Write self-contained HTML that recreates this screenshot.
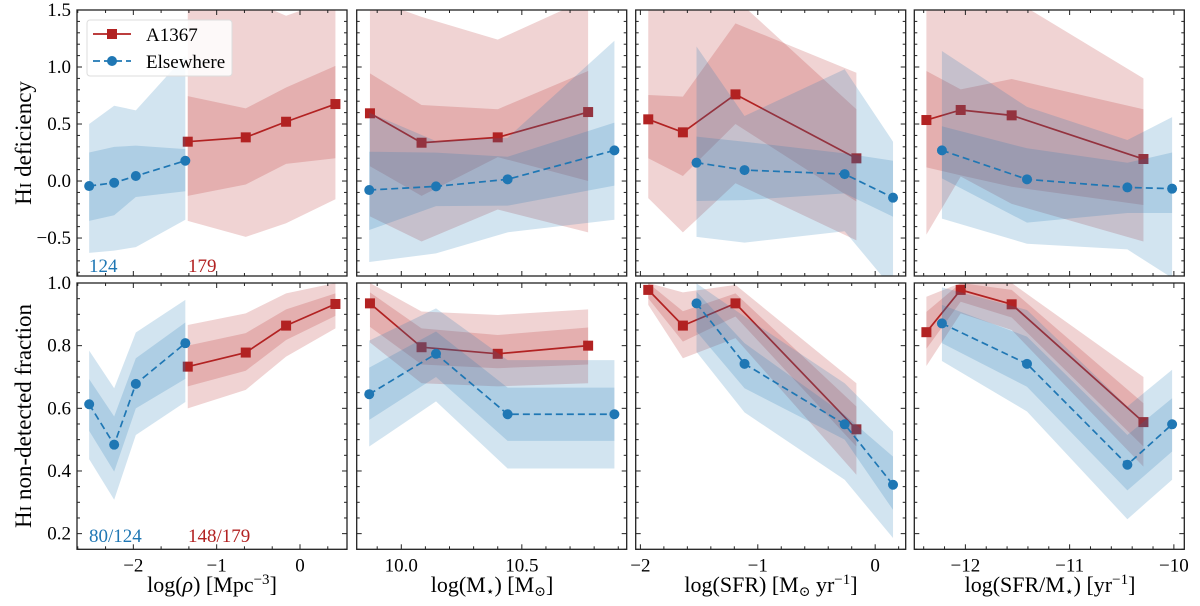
<!DOCTYPE html>
<html><head><meta charset="utf-8">
<style>
html,body{margin:0;padding:0;background:#fff;}
svg{display:block;font-family:"Liberation Serif","DejaVu Serif",serif;}
</style></head>
<body>
<svg id="chart" width="1200" height="606" viewBox="0 0 1200 606" xmlns="http://www.w3.org/2000/svg">
<g id="layer"></g>
<text transform="translate(31,143) rotate(-90)" text-anchor="middle" font-size="23">H<tspan font-size="17">I</tspan> deficiency</text>
<text transform="translate(31,416) rotate(-90)" text-anchor="middle" font-size="23">H<tspan font-size="17">I</tspan> non-detected fraction</text>
<text x="212" y="592" text-anchor="middle" font-size="22">log(<tspan font-style="italic">ρ</tspan>) [Mpc<tspan font-size="15" dy="-8">−3</tspan><tspan dy="8">]</tspan></text>
<text x="492" y="592" text-anchor="middle" font-size="22">log(M<tspan font-size="14" dy="4">⋆</tspan><tspan dy="-4">) [M</tspan><tspan font-size="14" dy="4">⊙</tspan><tspan dy="-4">]</tspan></text>
<text x="771" y="592" text-anchor="middle" font-size="22">log(SFR) [M<tspan font-size="14" dy="4">⊙</tspan><tspan dy="-4"> yr</tspan><tspan font-size="15" dy="-8">−1</tspan><tspan dy="8">]</tspan></text>
<text x="1050" y="592" text-anchor="middle" font-size="22">log(SFR/M<tspan font-size="14" dy="4">⋆</tspan><tspan dy="-4">) [yr</tspan><tspan font-size="15" dy="-8">−1</tspan><tspan dy="8">]</tspan></text>
<text x="89" y="272" font-size="19" fill="#1f77b4">124</text>
<text x="188" y="272" font-size="19" fill="#b22222">179</text>
<text x="89" y="542" font-size="19" fill="#1f77b4">80/124</text>
<text x="188" y="542" font-size="19" fill="#b22222">148/179</text>
<g>
<rect x="87" y="20" width="145" height="56" rx="3" fill="#fff" fill-opacity="0.85" stroke="#ddd" stroke-width="1"/>
<g>
<line x1="93" y1="34" x2="131" y2="34" stroke="#b22222" stroke-width="1.7"/>
<rect x="107" y="29" width="10" height="10" fill="#b22222"/>
<text x="146" y="41" font-size="19">A1367</text></g>
<g>
<line x1="93" y1="61" x2="131" y2="61" stroke="#1f77b4" stroke-width="1.7" stroke-dasharray="7,4"/>
<circle cx="112" cy="61" r="5" fill="#1f77b4"/>
<text x="146" y="68" font-size="19">Elsewhere</text></g>
</g>
</svg>
<script>
// ---- data: x positions ----
const p1RedX=[-1.347,-0.651,-0.167,0.425];
const p1BlueX=[-2.53,-2.23,-1.97,-1.376];
const p2RedX=[9.87,10.084,10.40,10.775];
const p2BlueX=[9.867,10.144,10.441,10.884];
const p3RedX=[-1.933,-1.638,-1.19,-0.16];
const p3BlueX=[-1.522,-1.113,-0.26,0.152];
const p4RedX=[-12.374,-12.045,-11.556,-10.292];
const p4BlueX=[-12.225,-11.409,-10.446,-10.017];
// ---- HI deficiency (top row) ----
const p1RedDef=[0.345,0.383,0.52,0.675];
const p1RedDefInLo=[-0.13,-0.03,0.15,0.20];
const p1RedDefInHi=[0.745,0.637,0.82,1.01];
const p1RedDefOutLo=[-0.35,-0.49,-0.37,-0.16];
const p1RedDefOutHi=[1.6,1.6,1.45,1.6];
const p1BlueDef=[-0.044,-0.015,0.044,0.178];
const p1BlueDefInLo=[-0.35,-0.30,-0.14,-0.09];
const p1BlueDefInHi=[0.25,0.30,0.31,0.28];
const p1BlueDefOutLo=[-0.63,-0.61,-0.58,-0.34];
const p1BlueDefOutHi=[0.50,0.66,0.62,1.1];
const p2RedDef=[0.594,0.336,0.383,0.605];
const p2RedDefInLo=[0.13,-0.13,0.21,0.0];
const p2RedDefInHi=[0.944,0.667,0.63,0.965];
const p2RedDefOutLo=[-0.31,-0.53,-0.25,-0.45];
const p2RedDefOutHi=[1.6,1.44,1.24,1.6];
const p2BlueDef=[-0.079,-0.047,0.015,0.269];
const p2BlueDefInLo=[-0.43,-0.22,-0.216,-0.04];
const p2BlueDefInHi=[0.257,0.249,0.213,0.512];
const p2BlueDefOutLo=[-0.71,-0.635,-0.45,-0.34];
const p2BlueDefOutHi=[0.6,0.35,0.38,1.23];
const p3RedDef=[0.541,0.427,0.76,0.199];
const p3RedDefInLo=[0.2,0.044,0.5,-0.18];
const p3RedDefInHi=[0.754,0.74,1.383,0.95];
const p3RedDefOutLo=[-0.15,-0.45,-0.02,-0.52];
const p3RedDefOutHi=[1.6,1.6,1.6,0.63];
const p3BlueDef=[0.161,0.096,0.061,-0.146];
const p3BlueDefInLo=[-0.175,-0.167,-0.108,-0.313];
const p3BlueDefInHi=[0.389,0.345,0.243,0.178];
const p3BlueDefOutLo=[-0.49,-0.54,-0.44,-0.95];
const p3BlueDefOutHi=[1.18,0.57,0.98,0.345];
const p4RedDef=[0.535,0.623,0.576,0.193];
const p4RedDefInLo=[0.12,0.05,-0.05,-0.21];
const p4RedDefInHi=[0.965,0.804,0.895,0.629];
const p4RedDefOutLo=[-0.47,0.04,-0.2,-0.53];
const p4RedDefOutHi=[1.6,1.6,1.6,0.9];
const p4BlueDef=[0.269,0.015,-0.056,-0.067];
const p4BlueDefInLo=[0.023,-0.365,-0.28,-0.28];
const p4BlueDefInHi=[0.48,0.287,0.16,0.25];
const p4BlueDefOutLo=[-0.33,-0.55,-0.6,-0.85];
const p4BlueDefOutHi=[1.14,0.65,0.36,0.56];
// ---- non-detected fraction (bottom row) ----
const p1RedFrac=[0.733,0.778,0.864,0.933];
const p1RedFracInLo=[0.67,0.72,0.818,0.895];
const p1RedFracInHi=[0.80,0.84,0.916,0.967];
const p1RedFracOutLo=[0.60,0.659,0.765,0.855];
const p1RedFracOutHi=[0.866,0.903,0.967,1.0];
const p1BlueFrac=[0.613,0.484,0.678,0.808];
const p1BlueFracInLo=[0.528,0.398,0.60,0.694];
const p1BlueFracInHi=[0.693,0.574,0.76,0.874];
const p1BlueFracOutLo=[0.438,0.308,0.515,0.62];
const p1BlueFracOutHi=[0.784,0.664,0.842,0.946];
const p2RedFrac=[0.935,0.795,0.774,0.80];
const p2RedFracInLo=[0.86,0.74,0.728,0.74];
const p2RedFracInHi=[0.97,0.855,0.834,0.858];
const p2RedFracOutLo=[0.81,0.68,0.67,0.68];
const p2RedFracOutHi=[1.0,0.909,0.898,0.916];
const p2BlueFrac=[0.645,0.774,0.581,0.581];
const p2BlueFracInLo=[0.563,0.70,0.496,0.496];
const p2BlueFracInHi=[0.73,0.845,0.666,0.666];
const p2BlueFracOutLo=[0.478,0.622,0.408,0.408];
const p2BlueFracOutHi=[0.816,0.919,0.754,0.754];
const p3RedFrac=[0.978,0.864,0.935,0.533];
const p3RedFracInLo=[0.951,0.813,0.893,0.478];
const p3RedFracInHi=[1.0,0.91,0.967,0.606];
const p3RedFracOutLo=[0.93,0.76,0.824,0.388];
const p3RedFracOutHi=[1.0,0.97,0.994,0.68];
const p3BlueFrac=[0.935,0.742,0.549,0.356];
const p3BlueFracInLo=[0.845,0.664,0.5,0.276];
const p3BlueFracInHi=[0.972,0.808,0.579,0.446];
const p3BlueFracOutLo=[0.78,0.587,0.372,0.186];
const p3BlueFracOutHi=[0.999,0.893,0.68,0.526];
const p4RedFrac=[0.843,0.978,0.932,0.556];
const p4RedFracInLo=[0.79,0.94,0.89,0.478];
const p4RedFracInHi=[0.908,1.0,0.978,0.616];
const p4RedFracOutLo=[0.735,0.903,0.85,0.414];
const p4RedFracOutHi=[0.956,1.0,1.0,0.70];
const p4BlueFrac=[0.871,0.742,0.42,0.549];
const p4BlueFracInLo=[0.808,0.669,0.338,0.462];
const p4BlueFracInHi=[0.93,0.829,0.515,0.632];
const p4BlueFracOutLo=[0.751,0.59,0.246,0.372];
const p4BlueFracOutHi=[0.986,0.914,0.606,0.723];
// ---- tick labels ----
const defTicks=[-0.5,0.0,0.5,1.0,1.5];
const fracTicks=[0.2,0.4,0.6,0.8,1.0];
const p1XTicks=[-2,-1,0];
const p2XTicks=[10.0,10.5];
const p3XTicks=[-2,-1,0];
const p4XTicks=[-12,-11,-10];

const NS="http://www.w3.org/2000/svg";
const layer=document.getElementById('layer');
const RED="#b22222", BLUE="#1f77b4";
function mk(tag,attrs,parent){const e=document.createElementNS(NS,tag);for(const k in attrs)e.setAttribute(k,attrs[k]);(parent||layer).appendChild(e);return e;}
function fmt(v,dec){let s=v.toFixed(dec);if(v<0)s="−"+s.slice(1);return s;}

const cols=[
 {x0:77,x1:347,xmin:-2.676,xmax:0.564,xt:p1XTicks,minor:1/3,dec:0,name:'density',
  rx:p1RedX,bx:p1BlueX,
  def:[p1RedDef,p1RedDefInLo,p1RedDefInHi,p1RedDefOutLo,p1RedDefOutHi,p1BlueDef,p1BlueDefInLo,p1BlueDefInHi,p1BlueDefOutLo,p1BlueDefOutHi],
  frac:[p1RedFrac,p1RedFracInLo,p1RedFracInHi,p1RedFracOutLo,p1RedFracOutHi,p1BlueFrac,p1BlueFracInLo,p1BlueFracInHi,p1BlueFracOutLo,p1BlueFracOutHi]},
 {x0:356.7,x1:626.7,xmin:9.815,xmax:10.935,xt:p2XTicks,minor:0.1,dec:1,name:'mass',
  rx:p2RedX,bx:p2BlueX,
  def:[p2RedDef,p2RedDefInLo,p2RedDefInHi,p2RedDefOutLo,p2RedDefOutHi,p2BlueDef,p2BlueDefInLo,p2BlueDefInHi,p2BlueDefOutLo,p2BlueDefOutHi],
  frac:[p2RedFrac,p2RedFracInLo,p2RedFracInHi,p2RedFracOutLo,p2RedFracOutHi,p2BlueFrac,p2BlueFracInLo,p2BlueFracInHi,p2BlueFracOutLo,p2BlueFracOutHi]},
 {x0:635.7,x1:905.7,xmin:-2.04,xmax:0.26,xt:p3XTicks,minor:0.2,dec:0,name:'sfr',
  rx:p3RedX,bx:p3BlueX,
  def:[p3RedDef,p3RedDefInLo,p3RedDefInHi,p3RedDefOutLo,p3RedDefOutHi,p3BlueDef,p3BlueDefInLo,p3BlueDefInHi,p3BlueDefOutLo,p3BlueDefOutHi],
  frac:[p3RedFrac,p3RedFracInLo,p3RedFracInHi,p3RedFracOutLo,p3RedFracOutHi,p3BlueFrac,p3BlueFracInLo,p3BlueFracInHi,p3BlueFracOutLo,p3BlueFracOutHi]},
 {x0:914.3,x1:1184.3,xmin:-12.49,xmax:-9.9,xt:p4XTicks,minor:0.2,dec:0,name:'ssfr',
  rx:p4RedX,bx:p4BlueX,
  def:[p4RedDef,p4RedDefInLo,p4RedDefInHi,p4RedDefOutLo,p4RedDefOutHi,p4BlueDef,p4BlueDefInLo,p4BlueDefInHi,p4BlueDefOutLo,p4BlueDefOutHi],
  frac:[p4RedFrac,p4RedFracInLo,p4RedFracInHi,p4RedFracOutLo,p4RedFracOutHi,p4BlueFrac,p4BlueFracInLo,p4BlueFracInHi,p4BlueFracOutLo,p4BlueFracOutHi]}
];
const rows=[
 {y0:10,y1:276,ymin:-0.833,ymax:1.5,yt:defTicks,minor:0.1,dec:1,key:'def'},
 {y0:283,y1:549.3,ymin:0.15,ymax:1.0,yt:fracTicks,minor:0.05,dec:1,key:'frac'}
];

let clipId=0;
rows.forEach((r,ri)=>{cols.forEach((c,ci)=>{
  const sx=v=>c.x0+(v-c.xmin)/(c.xmax-c.xmin)*(c.x1-c.x0);
  const sy=v=>r.y1-(v-r.ymin)/(r.ymax-r.ymin)*(r.y1-r.y0);
  const g=mk('g',{});
  
  
  const cid='clip'+(clipId++);
  const cp=mk('clipPath',{id:cid},g);
  mk('rect',{x:c.x0,y:r.y0,width:c.x1-c.x0,height:r.y1-r.y0},cp);
  const plot=mk('g',{'clip-path':'url(#'+cid+')'},g);
  const d=c[r.key];
  function band(xs,lo,hi,col,nm){
    const pts=xs.map((x,i)=>sx(x)+','+sy(hi[i])).concat(xs.map((x,i)=>sx(x)+','+sy(lo[i])).reverse());
    const p=mk('polygon',{points:pts.join(' '),fill:col,'fill-opacity':0.2},plot);
    
    
  }
  function series(xs,ys,col,dash,marker,nm){
    const pl=mk('polyline',{points:xs.map((x,i)=>sx(x)+','+sy(ys[i])).join(' '),fill:'none',stroke:col,'stroke-width':1.7},plot);
    if(dash)pl.setAttribute('stroke-dasharray','7,4');
    
    
    xs.forEach((x,i)=>{
      let m;
      if(marker==='sq')m=mk('rect',{x:sx(x)-5,y:sy(ys[i])-5,width:10,height:10,fill:col},plot);
      else m=mk('circle',{cx:sx(x),cy:sy(ys[i]),r:5,fill:col},plot);
      
      
    });
  }
  band(c.rx,d[3],d[4],RED,'a1367-outer-band');
  band(c.rx,d[1],d[2],RED,'a1367-inner-band');
  series(c.rx,d[0],RED,false,'sq','a1367');
  band(c.bx,d[8],d[9],BLUE,'elsewhere-outer-band');
  band(c.bx,d[6],d[7],BLUE,'elsewhere-inner-band');
  series(c.bx,d[5],BLUE,true,'ci','elsewhere');
  mk('rect',{x:c.x0,y:r.y0,width:c.x1-c.x0,height:r.y1-r.y0,fill:'none',stroke:'#222','stroke-width':1.3},g);
  const yStart=Math.ceil(r.ymin/r.minor-1e-6);
  for(let k=yStart;k*r.minor<=r.ymax+1e-6;k++){
    const v=k*r.minor, y=sy(v);
    const major=r.yt.some(t=>Math.abs(t-v)<1e-6);
    const L=major?5:3;
    mk('line',{x1:c.x0,y1:y,x2:c.x0+L,y2:y,stroke:'#222','stroke-width':1},g);
    mk('line',{x1:c.x1,y1:y,x2:c.x1-L,y2:y,stroke:'#222','stroke-width':1},g);
    if(major&&ci===0){
      const t=mk('text',{x:c.x0-6,y:y+6,'text-anchor':'end','font-size':19},g);
      t.textContent=fmt(v,r.dec);
      
      
    }
  }
  const xStart=Math.ceil(c.xmin/c.minor-1e-6);
  for(let k=xStart;k*c.minor<=c.xmax+1e-6;k++){
    const v=k*c.minor, x=sx(v);
    const major=c.xt.some(t=>Math.abs(t-v)<1e-6);
    const L=major?5:3;
    mk('line',{x1:x,y1:r.y1,x2:x,y2:r.y1-L,stroke:'#222','stroke-width':1},g);
    mk('line',{x1:x,y1:r.y0,x2:x,y2:r.y0+L,stroke:'#222','stroke-width':1},g);
    if(major&&ri===1){
      const t=mk('text',{x:x,y:r.y1+22,'text-anchor':'middle','font-size':19},g);
      t.textContent=fmt(v,c.dec);
      
      
    }
  }
});});
const svg=document.getElementById('chart');
[...svg.children].filter(e=>e.id!=='layer').forEach(e=>svg.appendChild(e));
</script>
</body></html>
